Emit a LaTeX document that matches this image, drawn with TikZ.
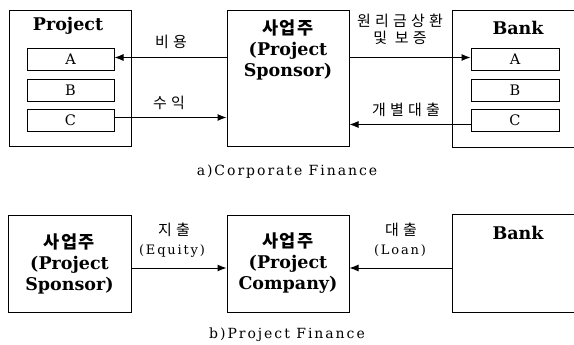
\documentclass[tikz,border=0pt]{standalone}
\usepackage{fontspec}
\setmainfont{DejaVu Serif}
\newfontfamily\kor[LetterSpace=8]{Noto Sans CJK KR}
\newfontfamily\korsp[LetterSpace=28]{Noto Sans CJK KR}
\newfontfamily\capfont[LetterSpace=14]{DejaVu Serif}
\usetikzlibrary{arrows.meta}
\tikzset{
  box/.style={draw, line width=1pt, rectangle, inner sep=0pt},
  sub/.style={box, minimum width=87pt, minimum height=22pt, font=\fontsize{14.5}{16}\selectfont},
  big/.style={align=center, font=\bfseries\fontsize{17.5}{21}\selectfont},
  ttl/.style={font=\bfseries\fontsize{17.5}{19}\selectfont},
  lbl/.style={align=center, font=\korsp\fontsize{15}{17}\selectfont},
  elbl/.style={font=\capfont\fontsize{13}{15}\selectfont},
  captext/.style={font=\capfont\fontsize{14}{16}\selectfont},
  arr/.style={line width=1pt, -{Latex[length=9pt,width=7pt]}},
}
\begin{document}
\begin{tikzpicture}[x=1pt,y=-1pt]
\useasboundingbox (0,0) rectangle (574,345);
% ---------- a) Corporate Finance ----------
\node[box, minimum width=122pt, minimum height=136pt] (proj) at (70,79) {};
\node[ttl] (projt) at (68,26) {Project};
\node[sub] (pa) at (70.5,59.5) {A};
\node[sub] (pb) at (70.5,90.5) {B};
\node[sub] (pc) at (70.5,120.5) {C};

\node[box, minimum width=122pt, minimum height=136pt] (sp) at (288,79) {};
\node[big] (spt) at (288,50) {{\kor 사업주}\\(Project\\Sponsor)};

\node[minimum width=121pt, minimum height=136pt, inner sep=0pt] (bank) at (513.5,79) {};
\draw[line width=1pt] (bank.north east) -- (bank.north west) -- (bank.south west) -- (bank.south east);
\node[ttl] (bankt) at (518,28) {Bank};
\node[sub, minimum width=88pt] (ba) at (515,59.5) {A};
\node[sub, minimum width=88pt] (bb) at (515,90.5) {B};
\node[sub, minimum width=88pt] (bc) at (515,120.5) {C};

\draw[arr] ([yshift=2pt]sp.west |- pa.east) -- ([yshift=2pt]pa.east);
\draw[arr] ([yshift=3pt]pc.east) -- ([yshift=3pt]sp.west |- pc.east);
\draw[arr] ([yshift=2pt]sp.east |- ba.west) -- ([yshift=2pt]ba.west);
\draw[arr] ([yshift=-4pt]bc.west) -- ([yshift=-4pt]sp.east |- bc.west);

\node[lbl] (l1) at (171,42) {비용};
\node[lbl] (l2) at (169,103) {수익};
\node[lbl] (l3) at (400,29) {원리금상환\\및 보증};
\node[lbl] (l4) at (406,110) {개별대출};

\node[captext] (capa) at (287,172) {a)Corporate Finance};

% ---------- b) Project Finance ----------
\node[box, minimum width=123pt, minimum height=97pt] (sp2) at (69.5,263.5) {};
\node[big] (sp2t) at (69.5,263.5) {{\kor 사업주}\\(Project\\Sponsor)};
\node[box, minimum width=122pt, minimum height=97pt] (comp) at (288,263.5) {};
\node[big] (compt) at (288,263.5) {{\kor 사업주}\\(Project\\Company)};
\node[minimum width=121pt, minimum height=97pt, inner sep=0pt] (bank2) at (513.5,263.5) {};
\draw[line width=1pt] (bank2.north east) -- (bank2.north west) -- (bank2.south west) -- (bank2.south east);
\node[ttl] (bank2t) at (518,233) {Bank};

\draw[arr] ([yshift=-4.5pt]sp2.east) -- ([yshift=-4.5pt]comp.west);
\draw[arr] ([yshift=-4.5pt]bank2.west) -- ([yshift=-4.5pt]comp.east);

\node[lbl] (l5) at (174,230) {지출};
\node[elbl] (l5e) at (172,251) {(Equity)};
\node[lbl] (l6) at (401,230) {대출};
\node[elbl] (l6e) at (400,251) {(Loan)};

\node[captext] (capb) at (287,335) {b)Project Finance};
\end{tikzpicture}
\end{document}
